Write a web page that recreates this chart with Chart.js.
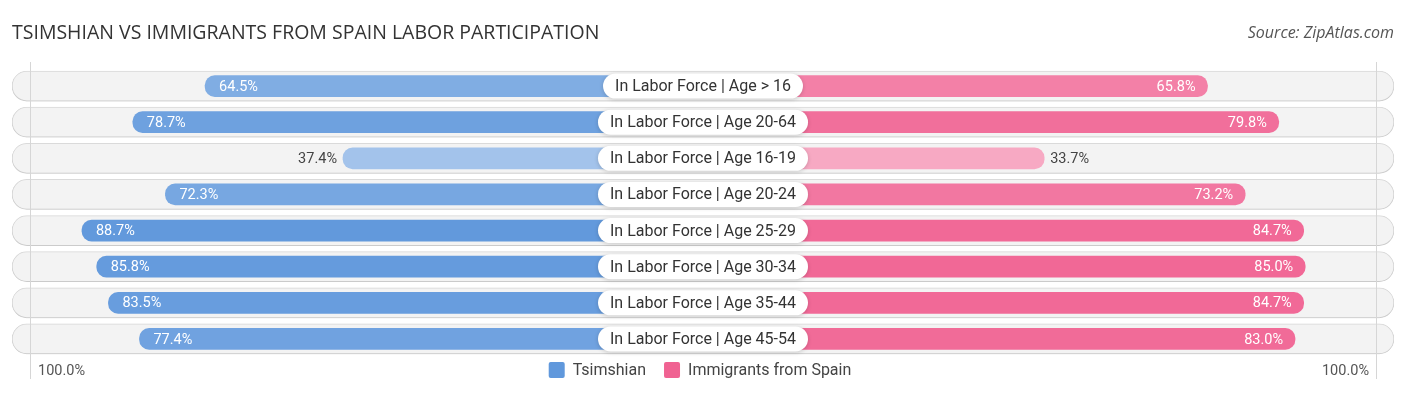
<!DOCTYPE html>
<html>
<head>
<meta charset="utf-8">
<script src="https://cdn.jsdelivr.net/npm/chart.js@4/dist/chart.umd.min.js"></script>
<style>
  html, body { margin: 0; padding: 0; background: #ffffff; }
  #wrap { position: relative; width: 1406px; height: 395px; }
  canvas { display: block; }
</style>
</head>
<body>
<div id="wrap"><canvas id="c" width="1406" height="395"></canvas></div>
<script>
const titleText = "TSIMSHIAN VS IMMIGRANTS FROM SPAIN LABOR PARTICIPATION";
const sourceText = "Source: ZipAtlas.com";
const categories = [
  "In Labor Force | Age > 16",
  "In Labor Force | Age 20-64",
  "In Labor Force | Age 16-19",
  "In Labor Force | Age 20-24",
  "In Labor Force | Age 25-29",
  "In Labor Force | Age 30-34",
  "In Labor Force | Age 35-44",
  "In Labor Force | Age 45-54"
];
const seriesNames = ["Tsimshian", "Immigrants from Spain"];
const tsimshian = [64.5, 78.7, 37.4, 72.3, 88.7, 85.8, 83.5, 77.4];
const spain = [65.8, 79.8, 33.7, 73.2, 84.7, 85.0, 84.7, 83.0];
const axisTickLabels = ["100.0%", "100.0%"];

// layout constants (not data)
const OFF = 33.35;      // hidden offset under the centre label
const HALF = 135.8;     // half-width of the axis in value units
const BLUE = [96, 152, 220];
const PINK = [240, 98, 146];

function shade(base, v) {
  let t = (90 - v) / 125;
  if (t < 0) t = 0;
  const c = base.map((b) => Math.round(b + (255 - b) * t));
  return `rgb(${c[0]},${c[1]},${c[2]})`;
}

const bgData = categories.map(() => [-HALF, HALF]);
const leftData = tsimshian.map((v) => [-(v + OFF), 0]);
const rightData = spain.map((v) => [0, v + OFF]);

const decor = {
  id: 'decor',
  beforeDatasetDraw(chart, args) {
    const ctx = chart.ctx;
    if (args.index === 0) {
      ctx.save();
      ctx.shadowColor = 'rgba(0,0,0,0.13)';
      ctx.shadowBlur = 3;
      ctx.shadowOffsetY = 1;
    }
  },
  afterDatasetDraw(chart, args) {
    const ctx = chart.ctx;
    if (args.index === 0) {
      ctx.restore();
      const a = chart.chartArea;
      ctx.save();
      ctx.strokeStyle = '#d6d6d6';
      ctx.lineWidth = 1;
      [a.left + 18.5, a.right - 17.5].forEach((x) => {
        ctx.beginPath();
        ctx.moveTo(x, a.top - 6);
        ctx.lineTo(x, a.bottom + 22);
        ctx.stroke();
      });
      ctx.restore();
    }
  },
  afterDatasetsDraw(chart) {
    const ctx = chart.ctx;
    const xs = chart.scales.x;
    const meta = chart.getDatasetMeta(1);
    const cx = xs.getPixelForValue(0);
    ctx.save();
    ctx.textBaseline = 'middle';
    ctx.font = '14.5px Roboto, "Noto Sans", sans-serif';
    for (let i = 0; i < categories.length; i++) {
      const y = meta.data[i].y;
      const lv = tsimshian[i];
      const lx = xs.getPixelForValue(-(lv + OFF));
      const lt = lv.toFixed(1) + '%';
      if (lv >= 50) {
        ctx.fillStyle = '#ffffff';
        ctx.textAlign = 'left';
        ctx.fillText(lt, lx + 14, y + 1);
      } else {
        ctx.fillStyle = '#444444';
        ctx.textAlign = 'right';
        ctx.fillText(lt, lx - 6, y + 1);
      }
      const rv = spain[i];
      const rx = xs.getPixelForValue(rv + OFF);
      const rt = rv.toFixed(1) + '%';
      if (rv >= 50) {
        ctx.fillStyle = '#ffffff';
        ctx.textAlign = 'right';
        ctx.fillText(rt, rx - 12, y + 1);
      } else {
        ctx.fillStyle = '#444444';
        ctx.textAlign = 'left';
        ctx.fillText(rt, rx + 6, y + 1);
      }
    }
    ctx.font = '16px Roboto, "Noto Sans", sans-serif';
    for (let i = 0; i < categories.length; i++) {
      const y = meta.data[i].y;
      const w = ctx.measureText(categories[i]).width + 24;
      const h = 25;
      ctx.save();
      ctx.shadowColor = 'rgba(0,0,0,0.18)';
      ctx.shadowBlur = 4;
      ctx.shadowOffsetY = 1;
      ctx.fillStyle = '#ffffff';
      ctx.beginPath();
      ctx.roundRect(cx - w / 2, y - h / 2, w, h, h / 2);
      ctx.fill();
      ctx.restore();
      ctx.fillStyle = '#333333';
      ctx.textAlign = 'center';
      ctx.fillText(categories[i], cx, y + 1);
    }
    const a = chart.chartArea;
    ctx.font = '14.5px Roboto, "Noto Sans", sans-serif';
    ctx.fillStyle = '#555555';
    ctx.textAlign = 'left';
    ctx.fillText(axisTickLabels[0], a.left + 26, 371);
    ctx.textAlign = 'right';
    ctx.fillText(axisTickLabels[1], a.right - 25, 371);
    ctx.font = '16px Roboto, "Noto Sans", sans-serif';
    const cols = [shade(BLUE, 90), shade(PINK, 90)];
    const widths = seriesNames.map((n) => ctx.measureText(n).width);
    const total = 16 + 8 + widths[0] + 18 + 16 + 8 + widths[1];
    let x = cx - 3 - total / 2;
    const ly = 370;
    for (let k = 0; k < 2; k++) {
      ctx.fillStyle = cols[k];
      ctx.beginPath();
      ctx.roundRect(x, ly - 8, 16, 16, 2);
      ctx.fill();
      ctx.fillStyle = '#444444';
      ctx.textAlign = 'left';
      ctx.fillText(seriesNames[k], x + 24, ly + 1);
      x += 24 + widths[k] + 18;
    }
    ctx.font = '19.5px "Open Sans", Inter, sans-serif';
    ctx.fillStyle = '#333333';
    ctx.textAlign = 'left';
    ctx.fillText(titleText, 12, 33);
    ctx.font = 'italic 16px "Open Sans", Roboto, sans-serif';
    ctx.fillStyle = '#555555';
    ctx.textAlign = 'right';
    ctx.fillText(sourceText, 1394, 33);
    ctx.restore();
  }
};

new Chart(document.getElementById('c'), {
  type: 'bar',
  data: {
    labels: categories,
    datasets: [
      {
        label: 'bg',
        data: bgData,
        backgroundColor: '#f3f3f3',
        borderColor: '#dedede',
        borderWidth: 1,
        borderRadius: 15,
        borderSkipped: false,
        barThickness: 30,
        grouped: false,
        order: 3
      },
      {
        label: seriesNames[0],
        data: leftData,
        backgroundColor: tsimshian.map((v) => shade(BLUE, v)),
        borderRadius: 10,
        borderSkipped: false,
        barThickness: 21,
        grouped: false,
        order: 2
      },
      {
        label: seriesNames[1],
        data: rightData,
        backgroundColor: spain.map((v) => shade(PINK, v)),
        borderRadius: 10,
        borderSkipped: false,
        barThickness: 21,
        grouped: false,
        order: 1
      }
    ]
  },
  options: {
    indexAxis: 'y',
    responsive: false,
    animation: false,
    layout: { padding: { left: 12, right: 12, top: 68, bottom: 38 } },
    scales: {
      x: { display: false, min: -HALF, max: HALF },
      y: { display: false }
    },
    plugins: {
      legend: { display: false },
      tooltip: { enabled: false }
    }
  },
  plugins: [decor]
});
</script>
</body>
</html>
